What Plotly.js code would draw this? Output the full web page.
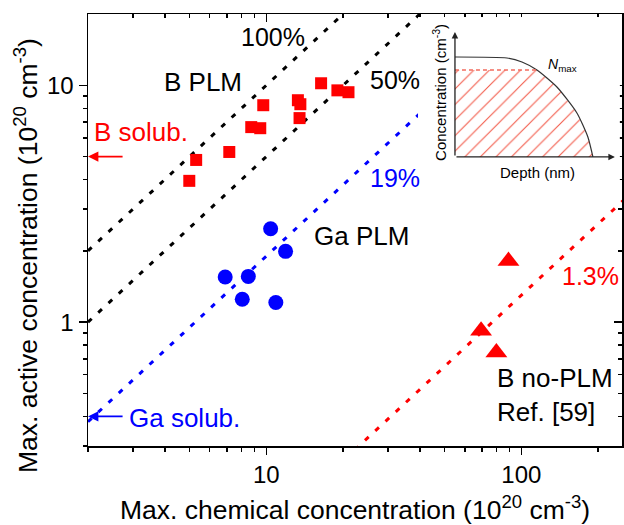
<!DOCTYPE html>
<html>
<head>
<meta charset="utf-8">
<script src="https://cdn.plot.ly/plotly-3.0.1.min.js"></script>
<style>
  html, body { margin: 0; padding: 0; background: #ffffff; }
  #chart { width: 624px; height: 525px; }
</style>
</head>
<body>
<div id="chart"></div>
<script>
// ---------------- data ----------------
const bPlmX = [4.99, 5.31, 7.16, 8.73, 9.47, 9.73, 13.3, 13.6, 13.5, 16.4, 19.0, 21.0];
const bPlmY = [3.95, 4.84, 5.23, 6.66, 6.59, 8.24, 8.65, 8.32, 7.27, 10.2, 9.52, 9.35];
const gaPlmX = [10.4, 11.9, 6.9, 8.5, 8.05, 10.9];
const gaPlmY = [2.48, 1.99, 1.55, 1.56, 1.25, 1.21];
const bNoPlmX = [89, 69.5, 79.8];
const bNoPlmY = [1.81, 0.92, 0.744];

const ratioValues = [1, 0.5, 0.19, 0.013];
const ratioLabels = ['100%', '50%', '19%', '1.3%'];
const lineXSpan = [2, 250];

const solubLabels = ['B solub.', 'Ga solub.'];
const solubValues = [5.0, 0.40];

const seriesLabels = ['B PLM', 'Ga PLM', 'B no-PLM<br>Ref. [59]'];

const xRange = [2, 248];
const yRange = [0.3, 20];
const xTickVals = [10, 100];
const xMinorVals = [2, 3, 4, 5, 6, 7, 8, 9, 20, 30, 40, 50, 60, 70, 80, 90, 200];
const yTickVals = [1, 10];
const yMinorVals = [0.3, 0.4, 0.5, 0.6, 0.7, 0.8, 0.9, 2, 3, 4, 5, 6, 7, 8, 9];

// inset schematic (arbitrary units)
const profileDepth = [0, 0.325, 0.419, 0.5125, 0.6375, 0.7625, 0.831, 0.8625];
const profileConc  = [0.8, 0.792, 0.76, 0.696, 0.56, 0.352, 0.16, 0];
const nMaxLevel = 0.696;
const insetAxisEnd = [1.0, 1.0];

// ---------------- styling ----------------
const FONT = 'Liberation Sans, Arial, Helvetica, sans-serif';
const RED = '#ff0000';
const BLUE = '#0000ff';
const ratioColors = ['black', 'black', BLUE, RED];
const lg = Math.log10;

const traces = [];

// ratio lines
ratioValues.forEach((r, i) => {
  traces.push({
    type: 'scatter', mode: 'lines',
    x: lineXSpan, y: lineXSpan.map(v => v * r),
    line: { color: ratioColors[i], width: 3, dash: '5px,9px' },
    hoverinfo: 'skip', showlegend: false
  });
});

traces.push({
  type: 'scatter', mode: 'markers', name: 'B PLM',
  x: bPlmX, y: bPlmY,
  marker: { symbol: 'square', size: 12, color: RED }
});
traces.push({
  type: 'scatter', mode: 'markers', name: 'Ga PLM',
  x: gaPlmX, y: gaPlmY,
  marker: { symbol: 'circle', size: 15, color: BLUE }
});
traces.push({
  type: 'scatter', mode: 'markers', name: 'B no-PLM',
  x: bNoPlmX, y: bNoPlmY,
  marker: { symbol: 'triangle-up', size: 19, color: RED }
});

// dummy trace for top/right mirrored axes
traces.push({ type: 'scatter', x: [], y: [], xaxis: 'x3', yaxis: 'y3', showlegend: false, hoverinfo: 'skip' });

// ---------- inset ----------
const hatchX = [0, 0], hatchY = [0, nMaxLevel];
let crossIdx = profileConc.findIndex(c => c <= nMaxLevel);
for (let i = crossIdx; i < profileDepth.length; i++) { hatchX.push(profileDepth[i]); hatchY.push(profileConc[i]); }
hatchX.push(0); hatchY.push(0);

traces.push({
  type: 'scatter', mode: 'lines', xaxis: 'x2', yaxis: 'y2',
  x: hatchX, y: hatchY, fill: 'toself', fillcolor: 'rgba(0,0,0,0)',
  fillpattern: { shape: '/', fgcolor: '#f25a4a', bgcolor: 'rgba(255,255,255,0)', size: 11, solidity: 0.1 },
  line: { width: 0 }, hoverinfo: 'skip', showlegend: false
});
traces.push({
  type: 'scatter', mode: 'lines', xaxis: 'x2', yaxis: 'y2',
  x: profileDepth, y: profileConc,
  line: { color: '#333333', width: 1.2, shape: 'spline', smoothing: 0.6 },
  hoverinfo: 'skip', showlegend: false
});
traces.push({
  type: 'scatter', mode: 'lines', xaxis: 'x2', yaxis: 'y2',
  x: [0, profileDepth[crossIdx]], y: [nMaxLevel, nMaxLevel],
  line: { color: '#f26b5e', width: 1.3, dash: '4px,3px' },
  hoverinfo: 'skip', showlegend: false
});

// ---------- axes ----------
function logAxis(range, major, minor, extra) {
  return Object.assign({
    type: 'log',
    range: [lg(range[0]), lg(range[1])],
    tickmode: 'array', tickvals: major, ticktext: major.map(String),
    ticks: 'outside', ticklen: 8, tickwidth: 1.5, tickcolor: 'black',
    showline: true, linewidth: 1.5, linecolor: 'black',
    showgrid: false, zeroline: false,
    tickfont: { family: FONT, size: 24, color: 'black' },
    minor: { tickmode: 'array', tickvals: minor, ticks: 'outside', ticklen: 4, tickwidth: 1.5, tickcolor: 'black', showgrid: false },
    fixedrange: true
  }, extra || {});
}

const hiddenAxis = {
  showgrid: false, zeroline: false, showticklabels: false, ticks: '', showline: false, fixedrange: true
};

const annotations = [];
function txt(text, px, py, color, size, opts) {
  annotations.push(Object.assign({
    text: text, xref: 'paper', yref: 'paper',
    x: (px - 88) / 534, y: (446 - py) / 432,
    xanchor: 'center', yanchor: 'middle', showarrow: false,
    font: { family: FONT, size: size, color: color }
  }, opts || {}));
}

txt(ratioLabels[0], 273, 37, 'black', 25);
txt(ratioLabels[1], 395, 80, 'black', 25);
txt(ratioLabels[2], 395, 178, BLUE, 25);
txt(ratioLabels[3], 590, 276, RED, 25);
txt(seriesLabels[0], 203, 82, 'black', 26);
txt(seriesLabels[1], 361, 236, 'black', 26);
txt(seriesLabels[2], 495, 395, 'black', 26, { xanchor: 'left', align: 'left' });
txt(solubLabels[0], 141, 132, RED, 26);
txt(solubLabels[1], 184, 418, BLUE, 26);

// solubility arrows
solubValues.forEach((v, i) => {
  annotations.push({
    text: '', xref: 'x', yref: 'y', axref: 'x', ayref: 'y',
    x: lg(xRange[0]), y: lg(v), ax: lg(2.77), ay: lg(v),
    showarrow: true, arrowhead: 2, arrowsize: 1.3, arrowwidth: 1.6,
    arrowcolor: i === 0 ? RED : BLUE, standoff: 0
  });
});

// y title
annotations.push({
  text: 'Max. active concentration (10<sup>20</sup> cm<sup>-3</sup>)',
  xref: 'paper', yref: 'paper', x: (26 - 88) / 534, y: (446 - 256) / 432,
  xanchor: 'center', yanchor: 'middle', textangle: -90, showarrow: false,
  font: { family: FONT, size: 26.5, color: 'black' }
});

// inset axes arrows
annotations.push({
  text: '', xref: 'x2', yref: 'y2', axref: 'x2', ayref: 'y2',
  x: insetAxisEnd[0], y: 0, ax: 0, ay: 0,
  showarrow: true, arrowhead: 2, arrowsize: 1, arrowwidth: 1.3, arrowcolor: '#222222', standoff: 0
});
annotations.push({
  text: '', xref: 'x2', yref: 'y2', axref: 'x2', ayref: 'y2',
  x: 0, y: insetAxisEnd[1], ax: 0, ay: 0,
  showarrow: true, arrowhead: 2, arrowsize: 1, arrowwidth: 1.3, arrowcolor: '#222222', standoff: 0
});
annotations.push({
  text: '<i>N</i><sub>max</sub>', xref: 'x2', yref: 'y2',
  x: 0.57, y: 0.74, xanchor: 'left', yanchor: 'middle', showarrow: false,
  font: { family: FONT, size: 14, color: 'black' }
});
annotations.push({
  text: 'Depth (nm)', xref: 'x2', yref: 'y2',
  x: 0.519, y: -0.128, xanchor: 'center', yanchor: 'middle', showarrow: false,
  font: { family: FONT, size: 15, color: 'black' }
});
annotations.push({
  text: 'Concentration (cm<sup>-3</sup>)', xref: 'x2', yref: 'y2',
  x: -0.094, y: 0.52, xanchor: 'center', yanchor: 'middle', textangle: -90, showarrow: false,
  font: { family: FONT, size: 15, color: 'black' }
});

const layout = {
  width: 624, height: 525,
  margin: { l: 88, r: 2, t: 14, b: 79 },
  paper_bgcolor: 'white', plot_bgcolor: 'white',
  showlegend: false,
  font: { family: FONT, color: 'black', size: 24 },
  xaxis: logAxis(xRange, xTickVals, xMinorVals, {
    ticklen: 7,
    title: { text: 'Max. chemical concentration (10<sup>20</sup> cm<sup>-3</sup>)', font: { family: FONT, size: 26.5, color: 'black' }, standoff: 20 }
  }),
  yaxis: logAxis(yRange, yTickVals, yMinorVals, {}),
  xaxis3: logAxis(xRange, xTickVals, xMinorVals, {
    overlaying: 'x', side: 'top', anchor: 'y', ticks: 'inside', showticklabels: false,
    minor: { tickmode: 'array', tickvals: xMinorVals, ticks: 'inside', ticklen: 4, tickwidth: 1.5, tickcolor: 'black', showgrid: false }
  }),
  yaxis3: logAxis(yRange, yTickVals, yMinorVals, {
    overlaying: 'y', side: 'right', anchor: 'x', ticks: 'inside', showticklabels: false,
    minor: { tickmode: 'array', tickvals: yMinorVals, ticks: 'inside', ticklen: 4, tickwidth: 1.5, tickcolor: 'black', showgrid: false }
  }),
  xaxis2: Object.assign({ domain: [0.618, 0.996], range: [-0.231, 1.031], anchor: 'y2' }, hiddenAxis),
  yaxis2: Object.assign({ domain: [0.602, 0.993], range: [-0.232, 1.12], anchor: 'x2' }, hiddenAxis),
  annotations: annotations
};

Plotly.newPlot('chart', traces, layout, { staticPlot: true, displayModeBar: false });
</script>
</body>
</html>
